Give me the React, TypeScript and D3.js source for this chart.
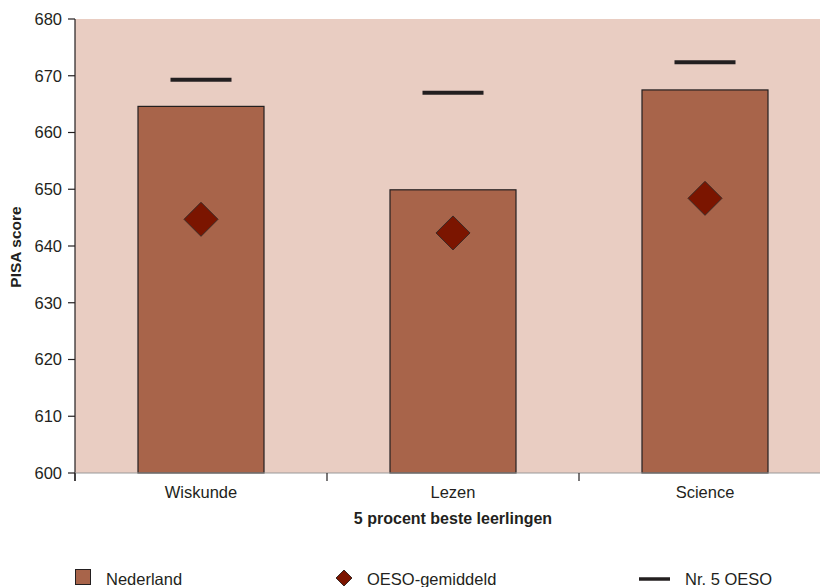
import React from "react";
import * as d3 from "d3";

const categories = ["Wiskunde", "Lezen", "Science"];
const nederland = [664.6, 649.9, 667.5];
const oesoGemiddeld = [644.7, 642.3, 648.4];
const nr5Oeso = [669.3, 667.0, 672.4];
const yTicks = [600, 610, 620, 630, 640, 650, 660, 670, 680];
const legendLabels = ["Nederland", "OESO-gemiddeld", "Nr. 5 OESO"];

const W = 820;
const H = 587;
const left = 75;
const top = 19;
const bottom = 473;
const FONT = "'Liberation Sans', Arial, Helvetica, sans-serif";
const TXT = "#231F20";
const BG = "#E9CDC2";
const BAR = "#A8644A";
const DIA = "#7B1500";
const FS = 16.5;

export default function App() {
  const x = d3.scaleBand<string>().domain(categories).range([left, 831]).paddingInner(0.5).paddingOuter(0.25);
  const y = d3.scaleLinear().domain([600, 680]).range([bottom, top]);
  const step = x.step();
  const bw = x.bandwidth();
  const boundaries = categories.map((_, i) => left + i * step);
  const dHalf = 17;
  const diamond = (cx: number, cy: number, h: number) =>
    `M${cx},${cy - h}L${cx + h},${cy}L${cx},${cy + h}L${cx - h},${cy}Z`;
  const lineW = 61;

  return (
    <svg width={W} height={H} style={{ position: "absolute", left: 0, top: 0, background: "#fff" }} fontFamily={FONT}>
      <rect x={left} y={top} width={W - left} height={bottom - top} fill={BG} />
      {categories.map((c, i) => {
        const x0 = x(c)!;
        const cx = x0 + bw / 2;
        return (
          <g key={c}>
            <rect x={x0} y={y(nederland[i])} width={bw} height={bottom - y(nederland[i])} fill={BAR} stroke={TXT} strokeWidth={1.2} />
            <line x1={cx - lineW / 2} x2={cx + lineW / 2} y1={y(nr5Oeso[i])} y2={y(nr5Oeso[i])} stroke={TXT} strokeWidth={4} />
            <path d={diamond(cx, y(oesoGemiddeld[i]), dHalf)} fill={DIA} stroke="#3a2a26" strokeWidth={1} />
          </g>
        );
      })}
      {/* y axis */}
      <line x1={left} x2={left} y1={top} y2={bottom + 8} stroke={TXT} strokeWidth={1.2} />
      {yTicks.map((t) => (
        <g key={t}>
          <line x1={left - 7} x2={left} y1={y(t)} y2={y(t)} stroke={TXT} strokeWidth={1.2} />
          <text x={left - 13} y={y(t)} dy="0.35em" textAnchor="end" fontSize={FS} fill={TXT}>{t}</text>
        </g>
      ))}
      {/* x axis */}
      <line x1={left} x2={W} y1={bottom} y2={bottom} stroke="#999" strokeWidth={1.2} />
      {boundaries.map((b, i) => (
        <line key={i} x1={b} x2={b} y1={bottom} y2={bottom + 8} stroke={TXT} strokeWidth={1.2} />
      ))}
      {categories.map((c) => (
        <text key={c} x={x(c)! + bw / 2} y={498} textAnchor="middle" fontSize={FS} fill={TXT}>{c}</text>
      ))}
      <text x={453} y={524} textAnchor="middle" fontSize={16} fontWeight="bold" fill={TXT}>5 procent beste leerlingen</text>
      <text transform={`translate(21,247) rotate(-90)`} textAnchor="middle" fontSize={15.5} fontWeight="bold" fill={TXT}>PISA score</text>
      {/* legend */}
      <rect x={75.5} y={569.5} width={15} height={15} fill={BAR} stroke={TXT} strokeWidth={1} />
      <text x={106} y={585} fontSize={FS} fill={TXT}>{legendLabels[0]}</text>
      <path d={diamond(344, 578, 8)} fill={DIA} stroke="#3a2a26" strokeWidth={1} />
      <text x={367} y={585} fontSize={FS} fill={TXT}>{legendLabels[1]}</text>
      <line x1={639} x2={670} y1={579} y2={579} stroke={TXT} strokeWidth={3.5} />
      <text x={685} y={585} fontSize={FS} fill={TXT}>{legendLabels[2]}</text>
    </svg>
  );
}
